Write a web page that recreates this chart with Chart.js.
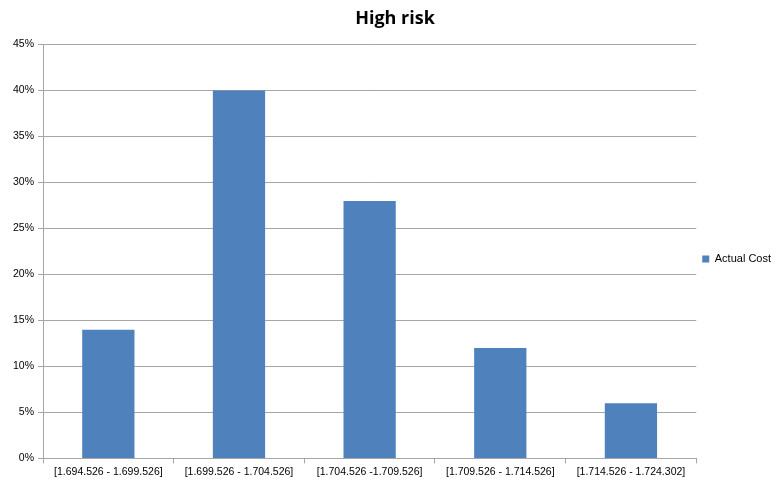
<!DOCTYPE html>
<html>
<head>
<meta charset="utf-8">
<script src="https://cdn.jsdelivr.net/npm/chart.js@4"></script>
<style>
  html, body { margin: 0; padding: 0; background: #fff; }
  #wrap { width: 784px; height: 484px; }
</style>
</head>
<body>
<div id="wrap"><canvas id="chart" width="784" height="484"></canvas></div>
<script>
const ranges = [
  '[1.694.526 - 1.699.526]',
  '[1.699.526 - 1.704.526]',
  '[1.704.526 -1.709.526]',
  '[1.709.526 - 1.714.526]',
  '[1.714.526 - 1.724.302]'
];
const actualCost = [14, 40, 28, 12, 6];
const yTicks = [0, 5, 10, 15, 20, 25, 30, 35, 40, 45];

const tickFont = { family: 'Liberation Sans', size: 10.5 };

new Chart(document.getElementById('chart').getContext('2d'), {
  type: 'bar',
  data: {
    labels: ranges,
    datasets: [{
      label: 'Actual Cost',
      data: actualCost,
      backgroundColor: '#4f81bd',
      borderWidth: 0,
      categoryPercentage: 1,
      barPercentage: 0.4
    }]
  },
  options: {
    responsive: false,
    animation: false,
    layout: { padding: { left: 9, right: 3, top: 6, bottom: 4 } },
    plugins: {
      title: {
        display: true,
        text: 'High risk',
        color: '#000',
        font: { family: 'Open Sans', size: 18, weight: 'bold' },
        padding: { top: 2, bottom: 15 }
      },
      legend: {
        position: 'right',
        // blank title pushes the single entry a little below centre
        title: { display: true, text: ' ', font: { size: 10 }, padding: { top: 20, bottom: 0 } },
        labels: {
          boxWidth: 7,
          boxHeight: 7,
          color: '#000',
          font: { family: 'Liberation Sans', size: 11 },
          padding: 6
        }
      },
      tooltip: { enabled: false }
    },
    scales: {
      x: {
        grid: {
          drawOnChartArea: false,
          drawTicks: true,
          tickLength: 5,
          color: '#a6a6a6'
        },
        border: { color: '#a6a6a6' },
        ticks: { color: '#000', font: tickFont, maxRotation: 0, autoSkip: false, padding: 2 }
      },
      y: {
        min: 0,
        max: 45,
        afterBuildTicks: axis => { axis.ticks = yTicks.map(v => ({ value: v })); },
        grid: { color: '#a6a6a6', tickLength: 5 },
        border: { color: '#a6a6a6' },
        ticks: { color: '#000', font: tickFont, padding: 4, callback: v => v + '%' }
      }
    }
  }
});
</script>
</body>
</html>
